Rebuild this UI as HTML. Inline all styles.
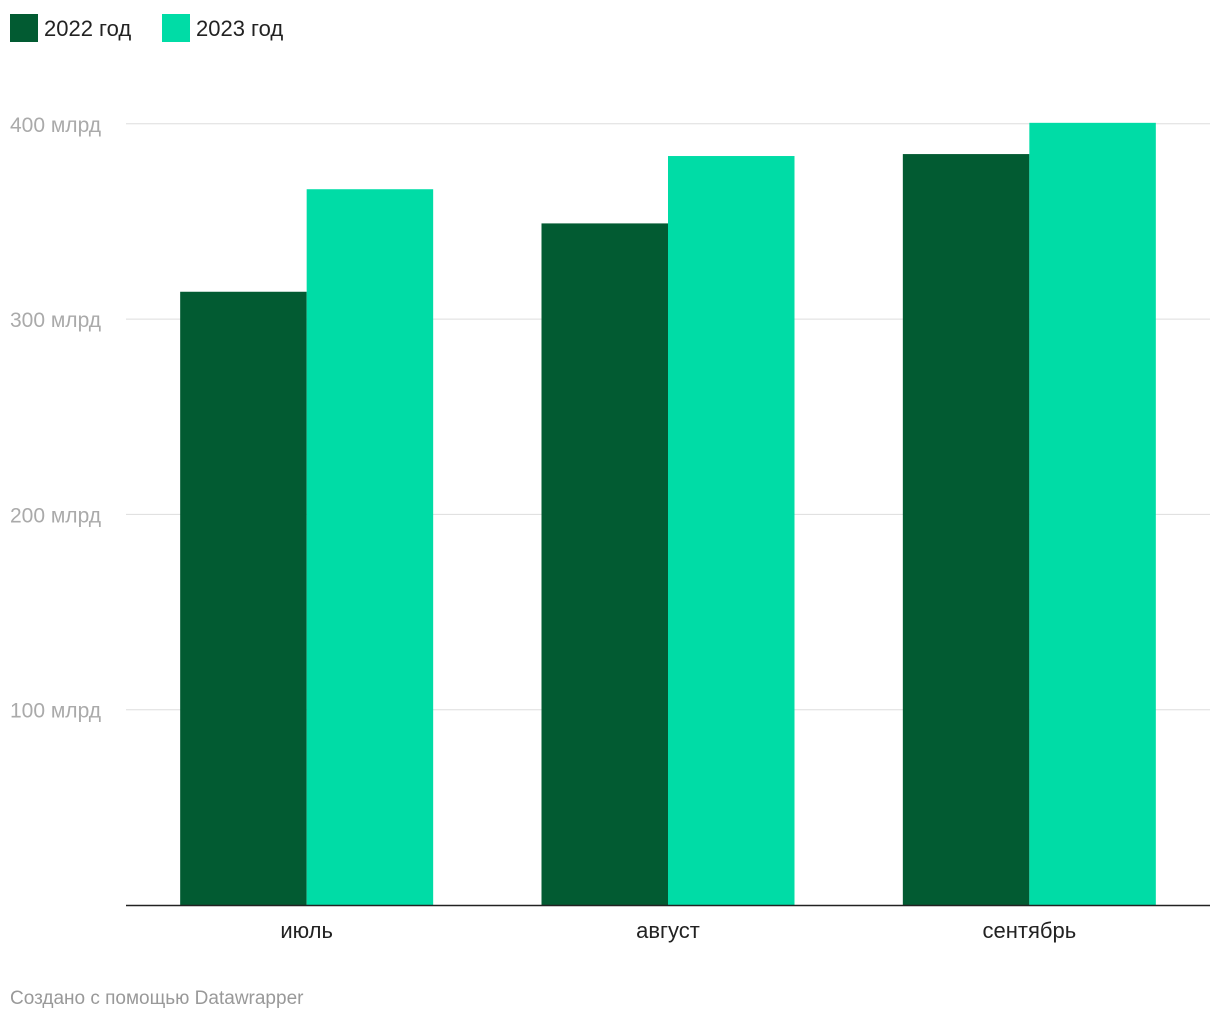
<!DOCTYPE html>
<html><head><meta charset="utf-8"><style>
body{margin:0;background:#fff;width:1220px;height:1020px;overflow:hidden;font-family:"Liberation Sans",sans-serif}
svg text{font-family:"Liberation Sans",sans-serif}
</style></head><body>
<svg width="1220" height="1020">
<g>
<rect x="10" y="14" width="28" height="28" fill="#025b32"/>
<text x="44" y="36" font-size="22" fill="#222">2022 год</text>
<rect x="162" y="14" width="28" height="28" fill="#00dca6"/>
<text x="196" y="36" font-size="22" fill="#222">2023 год</text>
</g>
<g id="grid"></g><g id="bars"></g><g id="xl"></g>
<line x1="126" x2="1210" y1="905.5" y2="905.5" stroke="#222" stroke-width="1.5"/>
<text x="10" y="1004" font-size="19" fill="#999">Создано с помощью Datawrapper</text>
</svg>
<script>
const categories=["июль","август","сентябрь"];
const series2022=[314,349,384.5];
const series2023=[366.5,383.5,400.5];
const ticks=[100,200,300,400];
const tickLabels=["100 млрд","200 млрд","300 млрд","400 млрд"];
const NS="http://www.w3.org/2000/svg";
const y=v=>905-v*1.953;
const band=(1210-126)/3;
const x=i=>126+band*i+band/2;
function mk(t,a,p){const e=document.createElementNS(NS,t);for(const k in a)e.setAttribute(k,a[k]);p.appendChild(e);return e;}
const grid=document.getElementById('grid');
ticks.forEach((t,i)=>{
 const l=mk('line',{x1:126,x2:1210,y1:y(t),y2:y(t),stroke:'#ddd','stroke-width':1},grid);
 
 
 const tx=mk('text',{x:10,y:y(t)+8,'font-size':21,fill:'#aaa'},grid);
 tx.textContent=tickLabels[i];
 
 
});
const bars=document.getElementById('bars'),xl=document.getElementById('xl');
categories.forEach((c,i)=>{
 const cx=x(i);
 const a=mk('rect',{x:cx-126.5,y:y(series2022[i]),width:126.5,height:905-y(series2022[i]),fill:'#025b32'},bars);
 
 
 const b=mk('rect',{x:cx,y:y(series2023[i]),width:126.5,height:905-y(series2023[i]),fill:'#00dca6'},bars);
 
 
 const t=mk('text',{x:cx,y:938,'font-size':22,fill:'#222','text-anchor':'middle'},xl);
 t.textContent=c;
 
 
});
</script>
</body></html>
